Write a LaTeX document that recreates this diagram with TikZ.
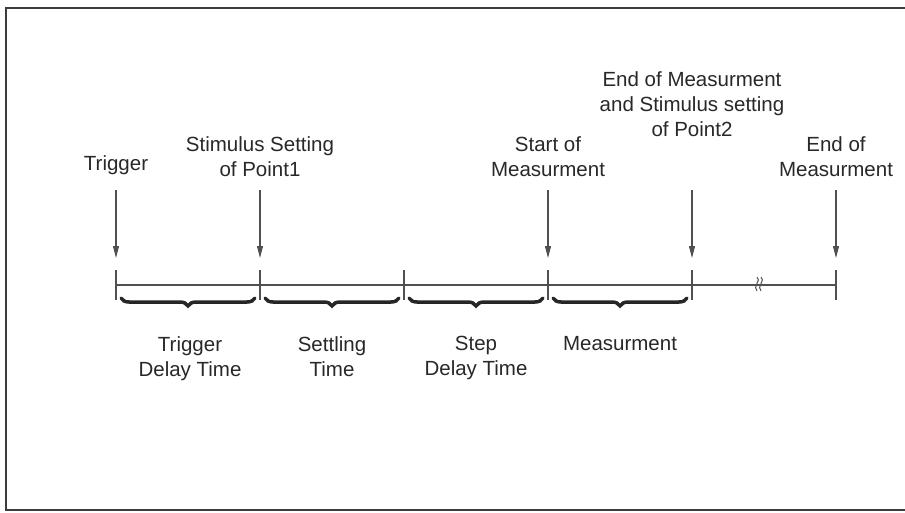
\documentclass[tikz,border=0pt]{standalone}
\usepackage{fontspec}
\setmainfont{Liberation Sans}
\usetikzlibrary{arrows.meta, positioning, decorations.pathreplacing}
\definecolor{inkgray}{RGB}{40,40,40}
\definecolor{linegray}{RGB}{80,80,80}
\definecolor{framegray}{RGB}{60,60,60}

\begin{document}
\begin{tikzpicture}[x=1pt, y=-1pt,
    lbl/.style={font=\fontsize{20.5}{25}\selectfont, text=inkgray, align=center, inner sep=0pt, text depth=0pt},
    tickarrow/.style={linegray, line width=1.1pt, -{Triangle[length=12pt, width=6pt]}, shorten <=13pt},
    span/.style={decorate, decoration={brace, mirror, amplitude=8pt}, line width=3.5pt, black!85, line cap=round}]
    \useasboundingbox (0,0) rectangle (905,512);

    % Frame (right side runs off the page)
    \draw[framegray, line width=2pt] (910,8) -- (6,8) -- (6,510) -- (910,510);

    % Time line
    \draw[linegray, line width=1.1pt] (116,285) -- (836,285);
    \foreach \x/\n in {116/0, 260/1, 404/2, 548/3, 692/4, 836/5} {
        \coordinate (t\n) at (\x,285);
        \coordinate (a\n) at (\x,258);
        \draw[linegray, line width=1.1pt] (\x,270) -- (\x,300);
    }

    % Break mark
    \draw[linegray, line width=1pt] (757,277) .. controls (762,280) and (752,287) .. (757,291);
    \draw[linegray, line width=1pt] (761,277) .. controls (766,280) and (756,287) .. (761,291);

    % Events
    \node[lbl, anchor=south] (trigger) at (116,171) {Trigger};
    \node[lbl, anchor=south] (stim1) at (260,177) {Stimulus Setting\\of Point1};
    \node[lbl, anchor=south] (startmeas) at (548,177) {Start of\\Measurment};
    \node[lbl, anchor=south] (endstim2) at (692,137) {End of Measurment\\and Stimulus setting\\of Point2};
    \node[lbl, anchor=south] (endmeas) at (836,177) {End of\\Measurment};

    \draw[tickarrow, shorten <=19pt] (trigger.south) -- (a0);
    \draw[tickarrow] (stim1.south) -- (a1);
    \draw[tickarrow] (startmeas.south) -- (a3);
    \draw[tickarrow, shorten <=53pt] (endstim2.south) -- (a4);
    \draw[tickarrow] (endmeas.south) -- (a5);

    % Intervals
    \draw[span] (121,298) -- (255,298);
    \draw[span] (265,298) -- (399,298);
    \draw[span] (409,298) -- (543,298);
    \draw[span] (553,298) -- (687,298);

    \node[lbl, anchor=north] (trgdelay) at (190,336) {Trigger\\Delay Time};
    \node[lbl, anchor=north] (settling) at (332,336) {Settling\\Time};
    \node[lbl, anchor=north] (stepdelay) at (476,336) {Step\\Delay Time};
    \node[lbl, anchor=north] (measure) at (620,336) {Measurment};
\end{tikzpicture}
\end{document}
